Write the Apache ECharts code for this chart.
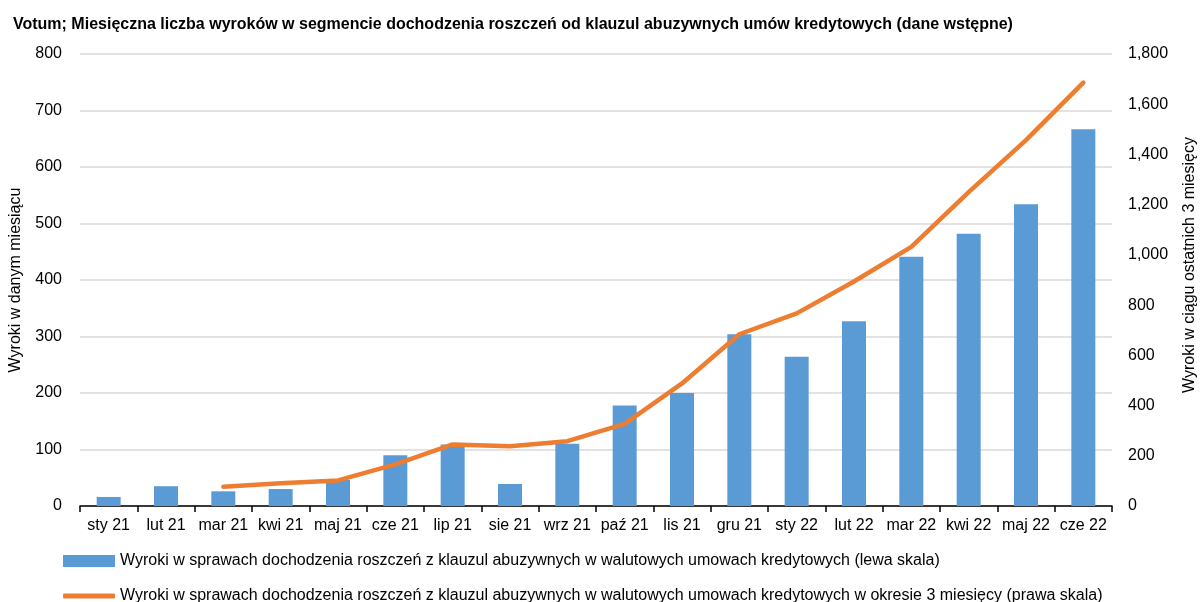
<!DOCTYPE html>
<html>
<head>
<meta charset="utf-8">
<script src="https://cdn.jsdelivr.net/npm/echarts@6/dist/echarts.min.js"></script>
<style>
  html, body { margin: 0; padding: 0; background: #fff; }
  #chart { width: 1200px; height: 602px; }
</style>
</head>
<body>
<div id="chart"></div>
<script>
const months = ['sty 21', 'lut 21', 'mar 21', 'kwi 21', 'maj 21', 'cze 21', 'lip 21', 'sie 21', 'wrz 21',
  'paź 21', 'lis 21', 'gru 21', 'sty 22', 'lut 22', 'mar 22', 'kwi 22', 'maj 22', 'cze 22'];
// lewa skala
const monthly = [16, 35, 26, 30, 46, 90, 109, 39, 110, 178, 200, 304, 264, 327, 441, 482, 534, 667];
// prawa skala
const rolling3m = [null, null, 77, 91, 102, 166, 245, 238, 258, 327, 488, 684, 767, 894, 1032, 1250, 1457, 1686];

const barName = 'Wyroki w sprawach dochodzenia roszczeń z klauzul abuzywnych w walutowych umowach kredytowych (lewa skala)';
const lineName = 'Wyroki w sprawach dochodzenia roszczeń z klauzul abuzywnych w walutowych umowach kredytowych w okresie 3 miesięcy (prawa skala)';

const font = "'Liberation Sans Narrow', 'Arial Narrow', 'Liberation Sans', sans-serif";
const textColor = '#000';
const legendText = { fontFamily: font, fontSize: 16, color: textColor };

const chart = echarts.init(document.getElementById('chart'), null, { renderer: 'canvas' });

chart.setOption({
  backgroundColor: '#fff',
  animation: false,
  textStyle: { fontFamily: font, color: textColor },
  title: {
    text: 'Votum; Miesięczna liczba wyroków w segmencie dochodzenia roszczeń od klauzul abuzywnych umów kredytowych (dane wstępne)',
    left: 8,
    top: 12,
    textStyle: { fontFamily: font, fontSize: 16, fontWeight: 'bold', color: textColor }
  },
  legend: [
    {
      left: 58,
      top: 548,
      itemWidth: 52,
      itemHeight: 12,
      textStyle: legendText,
      data: [{ name: barName, icon: 'rect' }]
    },
    {
      left: 58,
      top: 583,
      itemWidth: 52,
      itemHeight: 5,
      textStyle: legendText,
      data: [{ name: lineName, icon: 'roundRect' }]
    }
  ],
  grid: { left: 80, right: 88, top: 54, bottom: 96, containLabel: false, outerBoundsMode: 'none' },
  xAxis: {
    type: 'category',
    data: months,
    boundaryGap: true,
    axisLine: { lineStyle: { color: '#000', width: 1.5 } },
    axisTick: { show: true, alignWithLabel: false, length: 6, lineStyle: { color: '#000', width: 1.5 } },
    axisLabel: { fontFamily: font, fontSize: 16, color: textColor, margin: 12, interval: 0 }
  },
  yAxis: [
    {
      type: 'value',
      min: 0,
      max: 800,
      interval: 100,
      name: 'Wyroki w danym miesiącu',
      nameLocation: 'middle',
      nameGap: 56,
      nameTextStyle: { fontFamily: font, fontSize: 16, color: textColor },
      axisLine: { show: false },
      axisTick: { show: false },
      axisLabel: { fontFamily: font, fontSize: 16, color: textColor, margin: 18 },
      splitLine: { lineStyle: { color: '#d9d9d9', width: 1.5 } }
    },
    {
      type: 'value',
      min: 0,
      max: 1800,
      interval: 200,
      name: 'Wyroki w ciągu ostatnich 3 miesięcy',
      nameLocation: 'middle',
      nameGap: 70,
      nameRotate: 90,
      nameTextStyle: { fontFamily: font, fontSize: 16, color: textColor, padding: [0, 0, 0, 30] },
      axisLine: { show: false },
      axisTick: { show: false },
      axisLabel: {
        fontFamily: font, fontSize: 16, color: textColor, margin: 16,
        formatter: (v) => v.toLocaleString('en-US')
      },
      splitLine: { show: false }
    }
  ],
  series: [
    {
      name: barName,
      type: 'bar',
      yAxisIndex: 0,
      barWidth: 24,
      itemStyle: { color: '#5b9bd5' },
      data: monthly
    },
    {
      name: lineName,
      type: 'line',
      yAxisIndex: 1,
      symbol: 'none',
      showSymbol: false,
      lineStyle: { color: '#ed7d31', width: 4.5, cap: 'round', join: 'round' },
      itemStyle: { color: '#ed7d31' },
      data: rolling3m
    }
  ]
});
</script>
</body>
</html>
